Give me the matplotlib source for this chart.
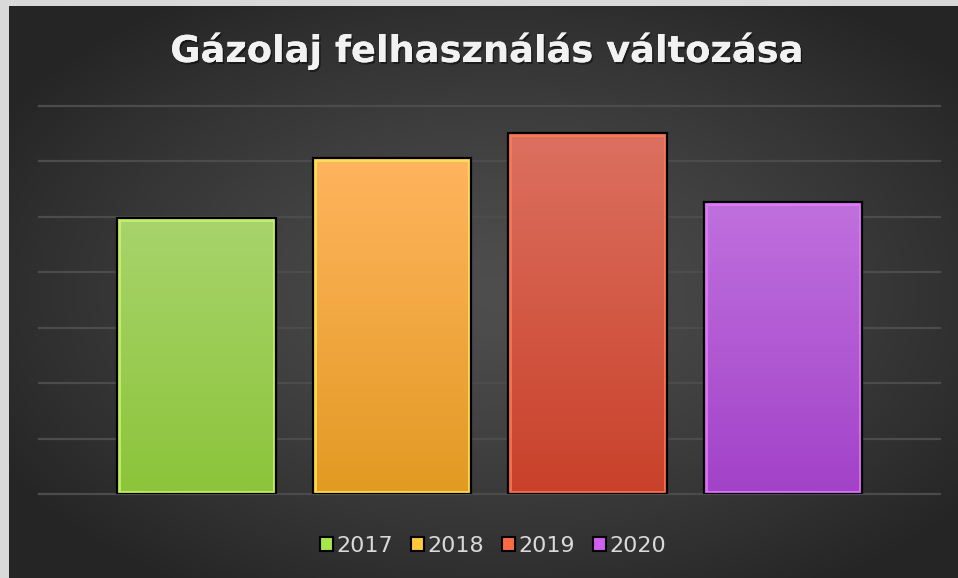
import numpy as np
import matplotlib
matplotlib.use("Agg")
import matplotlib.pyplot as plt
import matplotlib.patheffects as pe
from matplotlib.colors import to_rgb
from matplotlib.patches import Patch, Rectangle

# ---- data ----
title = "Gázolaj felhasználás változása"
categories = ["2017", "2018", "2019", "2020"]
values = [4.98, 6.06, 6.51, 5.27]
top_colors = ["#a8d46c", "#ffb45e", "#dc7060", "#c070de"]
bottom_colors = ["#8cc43a", "#e39a22", "#c9412a", "#a242c8"]
bevel_colors = ["#ccf56a", "#ffe85a", "#ff7a55", "#e87cff"]
legend_colors = ["#a6e84a", "#ffc93a", "#ff6a45", "#d060f0"]

W, H = 958, 578
fig = plt.figure(figsize=(W / 100, H / 100), dpi=100, facecolor="#d9d9d9")

# background radial gradient
bg = fig.add_axes([9 / W, 0, (W - 9) / W, (H - 6) / H])
bg.axis("off")
ny, nx = 300, 500
yy, xx = np.mgrid[0:1:ny * 1j, 0:1:nx * 1j]
r = np.sqrt(((xx - 0.52) / 0.62) ** 2 + ((yy - 0.5) / 0.62) ** 2)
r = np.clip(r, 0, 1)
c0 = np.array(to_rgb("#4e4e4e"))
c1 = np.array(to_rgb("#252525"))
img = c0 + (c1 - c0) * (r[..., None] ** 1.3)
bg.imshow(img, aspect="auto", extent=(0, 1, 0, 1), origin="lower")
bg.set_xlim(0, 1)
bg.set_ylim(0, 1)

# main axes
ax = fig.add_axes([39 / W, (H - 494) / H, (940 - 39) / W, (494 - 106) / H])
ax.axis("off")
for yv in range(8):
    ax.axhline(yv, color="#4c4c4c", lw=1.6, zorder=1, clip_on=False)

x = np.arange(len(categories))
bars = ax.bar(x, values, width=0.81, color="none", edgecolor="black",
              linewidth=1.6, zorder=5)
for i, b in enumerate(bars):
    t = np.array(to_rgb(top_colors[i]))
    bt = np.array(to_rgb(bottom_colors[i]))
    g = np.linspace(0, 1, 100)[:, None, None]
    grad = t + (bt - t) * g
    grad = np.repeat(grad, 2, axis=1)
    bx = b.get_x()
    im = ax.imshow(grad, extent=(bx, bx + b.get_width(), 0, b.get_height()),
                   aspect="auto", zorder=2, origin="upper")
    im.set_clip_path(b)
    bev = Rectangle((bx, 0), b.get_width(), b.get_height(), facecolor="none",
                    edgecolor=bevel_colors[i], linewidth=5, alpha=0.8, zorder=3)
    ax.add_patch(bev)
    bev.set_clip_path(b)

ax.set_xlim(-0.806, 3.803)
ax.set_ylim(0, 7)

# title
fig.text(487 / W, 1 - 51 / H, title, ha="center", va="center", fontsize=26.5,
         fontweight="bold", color="#f2f2f2",
         path_effects=[pe.withSimplePatchShadow(offset=(1.2, -1.5), alpha=0.45,
                                                shadow_rgbFace="black"),
                       pe.Normal()])

# legend
handles = [Patch(facecolor=c, edgecolor="black", linewidth=1.5) for c in legend_colors]
fig.legend(handles, categories, loc="center", bbox_to_anchor=(493 / W, 1 - 546 / H),
           ncol=4, frameon=False, fontsize=16, handlelength=0.6, handleheight=0.6,
           handletextpad=0.15, columnspacing=0.8, labelcolor="#d9d9d9")

fig.savefig("out.png", dpi=100, facecolor=fig.get_facecolor())
